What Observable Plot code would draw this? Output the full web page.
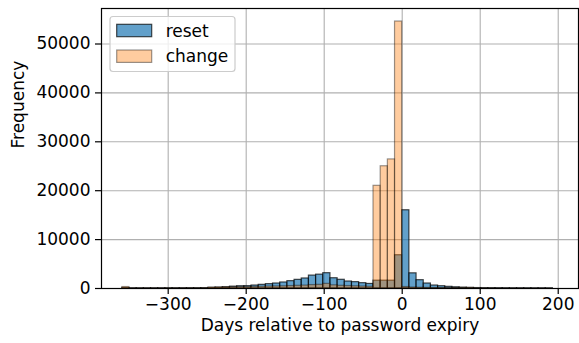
<!DOCTYPE html>
<html>
<head>
<meta charset="utf-8">
<script src="https://cdn.jsdelivr.net/npm/d3@7"></script>
<script src="https://cdn.jsdelivr.net/npm/@observablehq/plot@0.6"></script>
<style>
  html, body { margin: 0; padding: 0; background: white; }
</style>
</head>
<body>
<div id="chart"></div>
<script>
// Histogram of days relative to password expiry, shared bins of ~9.2 days
const binWidth = 9.2;
const firstEdge = -358.8;

// Counts per bin (left to right) for password resets
const resetCounts = [
  100, 40, 40, 40, 40, 40, 45, 50, 50, 60,
  60, 70, 120, 170, 250, 380, 460, 480, 610, 750,
  890, 1020, 1230, 1500, 1770, 2050, 2640, 2830, 3130, 2100,
  1780, 1430, 1300, 1090, 930, 1600, 1600, 1600, 6800, 16000,
  3100, 1700, 1020, 610, 470, 340, 250, 180, 130, 90,
  70, 60, 50, 45, 40, 40, 35, 30, 30, 25
];

// Counts per bin (left to right) for voluntary password changes
const changeCounts = [
  300, 30, 30, 30, 30, 30, 30, 30, 35, 40,
  40, 50, 200, 220, 250, 280, 300, 300, 330, 360,
  400, 420, 450, 500, 550, 600, 700, 750, 950, 650,
  550, 500, 450, 400, 350, 21000, 25000, 26400, 54600, 300,
  200, 150, 120, 100, 90, 80, 80, 90, 100, 40,
  30, 25, 20, 20, 15, 15, 10, 10, 10, 10
];

const xTicks = [-300, -200, -100, 0, 100, 200];
const yTicks = [0, 10000, 20000, 30000, 40000, 50000];
const seriesNames = ["reset", "change"];
const seriesColors = ["#1f77b4", "#ff7f0e"];
const seriesAlpha = [0.7, 0.4];

const bins = resetCounts.map((c, i) => ({
  x1: firstEdge + i * binWidth,
  x2: firstEdge + (i + 1) * binWidth,
  reset: c,
  change: changeCounts[i]
}));

const FS = 17;
const fmt = d => d < 0 ? "\u2212" + (-d) : String(d);
const gridStyle = {stroke: "#b0b0b0", strokeOpacity: 1, strokeWidth: 1.1};

const chart = Plot.plot({
  width: 579,
  height: 343,
  marginLeft: 101,
  marginRight: 1,
  marginTop: 8,
  marginBottom: 55,
  style: {fontFamily: "DejaVu Sans", fontSize: FS + "px", color: "black", background: "white"},
  x: {domain: [-385.5, 226], label: null},
  y: {domain: [0, 57260], label: null},
  marks: [
    Plot.gridX(xTicks, gridStyle),
    Plot.gridY(yTicks, gridStyle),
    Plot.rectY(bins, {
      x1: "x1", x2: "x2", y: "reset", inset: 0,
      fill: seriesColors[0], fillOpacity: seriesAlpha[0],
      stroke: "black", strokeOpacity: seriesAlpha[0], strokeWidth: 1.2
    }),
    Plot.rectY(bins, {
      x1: "x1", x2: "x2", y: "change", inset: 0,
      fill: seriesColors[1], fillOpacity: seriesAlpha[1],
      stroke: "black", strokeOpacity: seriesAlpha[1], strokeWidth: 1.2
    }),
    Plot.frame({stroke: "black", strokeWidth: 1.2}),
    Plot.axisX({ticks: xTicks, tickFormat: fmt, tickSize: 6, tickPadding: 3, strokeWidth: 1.2, label: null, fontSize: FS, fill: "black"}),
    Plot.axisY({ticks: yTicks, tickFormat: fmt, tickSize: 6, tickPadding: 5, strokeWidth: 1.2, label: null, fontSize: FS, fill: "black"}),
    Plot.text(["Days relative to password expiry"], {frameAnchor: "bottom", dy: 42.6, fill: "black", fontSize: FS}),
    Plot.text(["Frequency"], {frameAnchor: "left", dx: -82.8, rotate: -90, fill: "black", fontSize: FS})
  ]
});

document.getElementById("chart").appendChild(chart);

// Legend box in the upper left corner of the plot area
const svg = d3.select(chart);
const lg = svg.append("g").attr("class", "legend");
lg.append("rect")
  .attr("x", 110).attr("y", 16.5).attr("width", 125).attr("height", 55).attr("rx", 3)
  .attr("fill", "white").attr("fill-opacity", 0.8)
  .attr("stroke", "#cccccc").attr("stroke-width", 1.2);
seriesNames.forEach((name, i) => {
  const y = 24.3 + i * 25.7;
  lg.append("rect")
    .attr("x", 116.7).attr("y", y).attr("width", 35).attr("height", 12.4)
    .attr("fill", seriesColors[i]).attr("fill-opacity", seriesAlpha[i])
    .attr("stroke", "black").attr("stroke-opacity", seriesAlpha[i]).attr("stroke-width", 1.2);
  lg.append("text")
    .attr("x", 165.7).attr("y", y + 12.4)
    .attr("text-anchor", "start")
    .attr("fill", "black")
    .style("font-family", "DejaVu Sans").style("font-size", FS + "px")
    .text(name);
});
</script>
</body>
</html>
